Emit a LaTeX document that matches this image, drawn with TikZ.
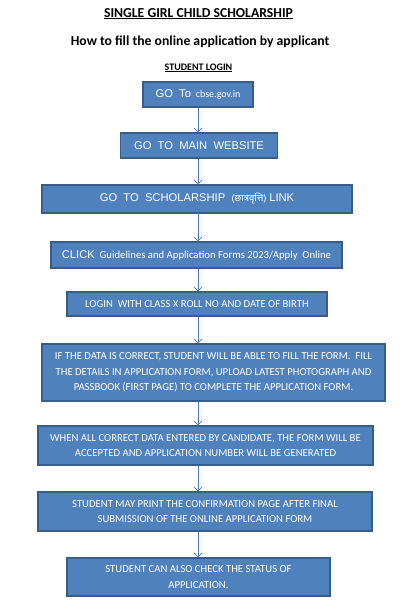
\documentclass[tikz,border=0pt]{standalone}
\usepackage{fontspec}
\setmainfont{Carlito}
\newfontfamily\arialfont{Liberation Sans}
\newfontfamily\devfont[Script=Devanagari]{Noto Sans}
\usetikzlibrary{arrows.meta, positioning}
\definecolor{BoxBlue}{HTML}{4F81BD}
\definecolor{BoxEdge}{HTML}{385D8A}
\definecolor{FlowLine}{HTML}{4A7EBB}
\tikzset{
  stepbox/.style={draw=BoxEdge, fill=BoxBlue, rectangle, line width=1.2pt,
                  inner sep=0pt, text=white, align=center,
                  font=\fontsize{10.7}{15.5}\selectfont},
  headtext/.style={anchor=base, font=\bfseries\fontsize{13.7}{16}\selectfont},
  flow/.style={-{Straight Barb[length=4pt, width=8pt]}, line width=0.8pt, draw=FlowLine}
}
\newcommand{\arialtext}[1]{{\arialfont\fontsize{11.2}{13}\selectfont #1}}

\begin{document}
\begin{tikzpicture}[x=1pt, y=1pt]
  \useasboundingbox (0,0) rectangle (417,-603);
  \coordinate (spine) at (198,0);

  \node[headtext] (title)    at (198.5,-17) {\underline{SINGLE GIRL CHILD SCHOLARSHIP}};
  \node[headtext] (subtitle) at (200,-45)   {How to fill the online application by applicant};
  \node[headtext, font=\bfseries\fontsize{10}{12}\selectfont] (login) at (198.5,-70) {\underline{STUDENT LOGIN}};

  \node[stepbox, minimum width=110pt, minimum height=25pt] (web)      at (198,-94.5)
    {\arialtext{GO\ \ To}\ \ {\fontsize{10}{12}\selectfont cbse.gov.in}};
  \node[stepbox, minimum width=157pt, minimum height=25pt] (mainsite) at (199,-145.5)
    {\arialtext{GO\ \ TO\ \ MAIN\ \ WEBSITE}};
  \node[stepbox, minimum width=310pt, minimum height=28pt] (scholar)  at (197,-199)
    {\arialtext{GO\ \ TO\ \ SCHOLARSHIP\ \ {\fontsize{9.5}{11}\selectfont(\devfont छात्रवृत्ति)} LINK}};
  \node[stepbox, minimum width=291pt, minimum height=26pt] (click)    at (196.5,-255)
    {\arialtext{CLICK}\ \ Guidelines and Application Forms 2023/Apply\ \ Online};
  \node[stepbox, minimum width=260pt, minimum height=24pt] (rollno)   at (197,-304)
    {LOGIN\ \ WITH CLASS X ROLL NO AND DATE OF BIRTH};
  \node[stepbox, minimum width=343pt, minimum height=57pt] (fillform) at (213.5,-372.5)
    {IF THE DATA IS CORRECT, STUDENT WILL BE ABLE TO FILL THE FORM.\ \ FILL\\
     THE DETAILS IN APPLICATION FORM, UPLOAD LATEST PHOTOGRAPH AND\\
     PASSBOOK (FIRST PAGE) TO COMPLETE THE APPLICATION FORM.};
  \node[stepbox, minimum width=335pt, minimum height=39pt] (accepted) at (205.5,-445.5)
    {WHEN ALL CORRECT DATA ENTERED BY CANDIDATE, THE FORM WILL BE\\
     ACCEPTED AND APPLICATION NUMBER WILL BE GENERATED};
  \node[stepbox, minimum width=334pt, minimum height=39pt] (printpg)  at (205,-511.5)
    {STUDENT MAY PRINT THE CONFIRMATION PAGE AFTER FINAL\\
     SUBMISSION OF THE ONLINE APPLICATION FORM};
  \node[stepbox, minimum width=263pt, minimum height=38pt] (status)   at (198.5,-577)
    {STUDENT CAN ALSO CHECK THE STATUS OF\\ APPLICATION.};

  \foreach \a/\b in {web/mainsite, mainsite/scholar, scholar/click, click/rollno,
                     rollno/fillform, fillform/accepted, accepted/printpg, printpg/status}
    \draw[flow] (\a.south -| spine) -- (\b.north -| spine);
\end{tikzpicture}
\end{document}
